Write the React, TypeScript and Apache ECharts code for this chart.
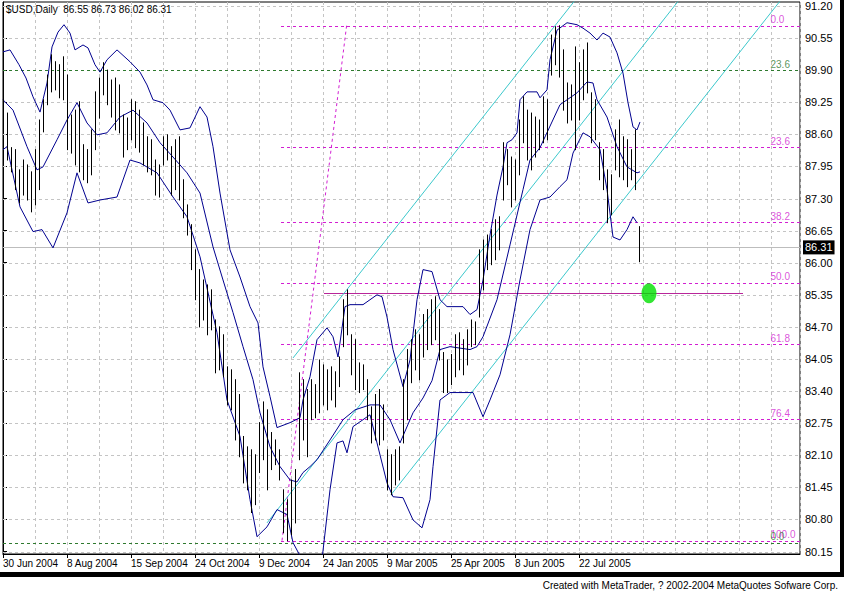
import React, { useEffect, useRef } from 'react';
import * as echarts from 'echarts';

// ---------- data ----------
const symbolName = '$USD,Daily';
const lastOHLC = [86.55, 86.73, 86.02, 86.31];

const barHigh = [
  89.56, 89.03, 88.33, 88.29, 87.88, 88.08, 87.98, 87.84, 88.29, 88.89,
  89.30, 89.80, 90.21, 90.07, 90.01, 90.17, 89.80, 88.99, 89.09, 89.26,
  88.39, 88.29, 88.69, 89.46, 89.74, 90.05, 89.90, 89.70, 89.74, 89.60,
  88.99, 88.93, 89.30, 89.26, 89.09, 88.83, 88.55, 88.49, 88.08, 87.98,
  88.55, 88.59, 88.35, 88.49, 88.55, 87.68, 87.17, 86.77, 86.26, 85.86,
  85.65, 85.55, 85.45, 84.84, 84.70, 84.54, 83.89, 83.83, 83.63, 83.33,
  82.48, 82.27, 82.21, 82.11, 82.76, 83.18, 83.02, 82.56, 82.41, 82.21,
  81.40, 81.20, 81.60, 81.81, 83.77, 83.63, 83.43, 83.63, 83.53, 84.03,
  83.93, 83.83, 83.89, 83.79, 84.09, 85.25, 85.45, 84.54, 84.44, 83.97,
  83.93, 83.63, 83.08, 83.33, 83.43, 83.12, 82.21, 82.11, 82.21, 82.27,
  83.63, 84.24, 84.44, 84.64, 84.54, 84.95, 85.05, 85.25, 85.31, 85.05,
  84.18, 84.03, 84.14, 84.54, 84.58, 84.44, 84.64, 84.84, 84.80, 86.26,
  86.46, 86.56, 86.67, 86.87, 86.93, 88.43, 88.29, 88.14, 88.08, 88.89,
  89.36, 89.09, 89.03, 88.95, 88.89, 89.36, 89.30, 90.61, 90.78, 90.80,
  90.31, 89.64, 89.60, 90.37, 90.05, 90.31, 90.45, 89.44, 89.30, 88.43,
  88.29, 87.88, 87.78, 88.69, 88.89, 88.55, 88.49, 88.29, 88.69, 86.73,
];
const barLow = [
  88.63, 88.08, 87.84, 87.48, 87.21, 87.37, 87.27, 87.03, 87.17, 87.48,
  88.65, 89.20, 89.46, 89.50, 89.34, 89.30, 88.29, 88.22, 87.98, 87.84,
  87.68, 87.62, 87.78, 88.29, 88.93, 89.40, 89.20, 88.95, 88.69, 88.63,
  88.14, 88.29, 88.49, 88.33, 88.24, 87.98, 87.84, 87.78, 87.37, 87.33,
  87.98, 88.08, 87.37, 87.48, 87.27, 86.91, 86.56, 85.86, 85.25, 84.70,
  84.84, 84.54, 84.64, 83.77, 83.83, 83.69, 83.12, 83.02, 82.41, 82.07,
  81.54, 81.40, 80.94, 81.10, 81.75, 82.01, 81.40, 81.81, 81.91, 81.60,
  80.53, 80.37, 80.49, 80.73, 82.01, 82.41, 82.07, 82.82, 82.86, 82.96,
  83.12, 83.02, 83.22, 83.08, 83.49, 84.30, 84.54, 83.73, 83.43, 83.37,
  83.43, 82.82, 82.35, 82.41, 82.31, 82.41, 81.40, 81.30, 81.50, 81.60,
  82.35, 82.82, 83.57, 83.83, 83.63, 84.09, 84.24, 84.34, 84.44, 84.03,
  83.37, 83.37, 83.53, 83.69, 83.83, 83.73, 83.93, 84.30, 84.34, 84.90,
  85.45, 85.86, 85.96, 86.06, 86.26, 87.27, 87.58, 87.13, 87.27, 87.78,
  88.43, 88.08, 87.88, 88.14, 88.29, 88.43, 88.49, 89.80, 90.01, 89.76,
  89.09, 88.83, 88.89, 88.29, 88.89, 89.30, 89.44, 88.43, 88.49, 87.68,
  87.48, 86.81, 86.97, 87.88, 87.74, 87.68, 87.54, 87.68, 87.48, 86.02,
];

const dateLabels = [
  '30 Jun 2004', '8 Aug 2004', '15 Sep 2004', '24 Oct 2004', '9 Dec 2004',
  '24 Jan 2005', '9 Mar 2005', '25 Apr 2005', '8 Jun 2005', '22 Jul 2005',
];
const dateLabelIdx = [0, 16, 32, 48, 64, 80, 96, 112, 128, 144];

const yTicks = [
  80.15, 80.8, 81.45, 82.1, 82.75, 83.4, 84.05, 84.7, 85.35, 86.0,
  86.65, 87.3, 87.95, 88.6, 89.25, 89.9, 90.55, 91.2,
];

const upperBand = [
  [0, 90.27], [1.75, 90.31], [4, 90.01], [5.75, 89.74], [7.5, 89.36], [9.25, 89.05],
  [11, 89.64], [12.25, 90.37], [13.75, 90.67], [15.25, 90.82], [16.75, 90.65], [18, 90.31],
  [20, 90.41], [21.25, 90.35], [23, 90.01], [24.25, 89.86], [26, 90.11], [28.5, 90.31],
  [31.75, 90.07], [34.25, 89.86], [36, 89.6], [37.5, 89.3], [40, 89.24], [41.75, 89.09],
  [44.25, 88.69], [46.75, 88.73], [49.25, 89.16], [51, 88.95], [52.5, 88.35], [54.25, 87.41],
  [56.75, 86.26], [59.25, 85.71], [61.75, 85.11], [63.75, 84.78], [65, 83.89], [66.75, 83.29],
  [68.5, 82.66], [71.75, 82.76], [74.25, 82.86], [75, 83.22], [76.75, 83.69], [78.5, 84.44],
  [81, 84.68], [82.5, 84.5], [83.75, 84.09], [85.5, 85.11], [86.75, 85.15], [90, 85.15],
  [93.5, 85.35], [94.75, 85.31], [96, 84.9], [97.5, 84.24], [100, 83.49], [101.75, 84.03],
  [103.5, 85.25], [105, 85.86], [107.25, 85.82], [109.25, 85.25], [111, 85.11], [115, 85.11],
  [116.75, 84.95], [118.5, 85.05], [120, 85.65], [121.75, 86.56], [123.5, 87.37], [125, 87.94],
  [126, 88.43], [127.25, 88.49], [128.5, 88.63], [129.25, 89.3], [131, 89.46], [133.5, 89.46],
  [134.25, 89.34], [136, 89.5], [136.75, 90.11], [138.5, 90.71], [141, 90.86], [143.5, 90.82],
  [145, 90.75], [146.75, 90.65], [148.5, 90.51], [150, 90.65], [151.75, 90.57], [153.5, 90.25],
  [155, 89.84], [156.25, 89.24], [157.5, 88.75], [158.5, 88.69], [159.25, 88.85],
];
const middleBand = [
  [0, 89.3], [2.5, 89.09], [6, 88.35], [8.5, 87.88], [10, 87.94], [13.5, 88.49],
  [16, 88.89], [18.5, 89.24], [21, 88.83], [23.5, 88.59], [26, 88.63], [29.25, 88.95],
  [32.5, 89.09], [36, 88.83], [39.25, 88.43], [42.5, 88.14], [46, 87.82], [49.25, 87.41],
  [52.5, 86.32], [55, 85.65], [57.5, 84.99], [60, 84.3], [62.5, 83.63], [64.25, 82.96],
  [66.75, 82.27], [69.25, 81.87], [71.75, 81.6], [73.5, 81.56], [75, 81.75], [76.75, 81.87],
  [78.5, 82.01], [81.75, 82.41], [85, 82.82], [88, 83.02], [91.75, 83.12], [94.25, 83.12],
  [96.75, 82.82], [99.25, 82.35], [102.5, 82.96], [105, 83.26], [107.25, 83.61], [109.25, 84.24],
  [111.75, 84.3], [116.75, 84.24], [118.5, 84.3], [120, 84.5], [123.5, 85.25], [126.75, 86.36],
  [130, 87.48], [131.75, 88.08], [134.25, 88.33], [139.25, 89.2], [143.5, 89.44], [146, 89.66],
  [147.5, 89.64], [148.5, 89.3], [151, 88.95], [153.5, 88.35], [156, 87.94], [158.5, 87.82],
  [159.25, 87.84],
];
const lowerBand = [
  [0, 88.29], [1, 88.35], [4.25, 87.13], [7.5, 86.63], [9.75, 86.67], [12.5, 86.3],
  [16, 87.01], [18.5, 87.82], [21.25, 87.21], [24.25, 87.27], [28.5, 87.33], [31.75, 88.08],
  [34.25, 88.02], [38.5, 87.82], [42.5, 87.33], [46, 86.93], [49.25, 86.12], [53.5, 84.58],
  [56, 83.22], [59.25, 82.48], [61.75, 81.2], [63.5, 80.45], [66, 80.65], [68.5, 81.0],
  [71, 80.9], [72.5, 80.33], [74.75, 79.99], [77.25, 79.18], [79.75, 79.99], [81.75, 81.4],
  [83.5, 82.35], [85, 82.39], [86, 82.15], [87.5, 82.68], [90, 82.82], [91.75, 82.92],
  [93.5, 82.35], [96, 81.54], [97.5, 81.26], [100, 81.24], [102.5, 80.79], [104.75, 80.63],
  [106.75, 81.2], [107.5, 81.87], [109.25, 83.22], [111.75, 83.37], [117.5, 83.37], [120, 82.88],
  [121.75, 83.22], [124.25, 83.73], [126.75, 84.54], [129.25, 85.65], [131.75, 86.67], [134.25, 87.27],
  [136.75, 87.33], [139.25, 87.54], [141, 87.68], [142.5, 88.22], [145, 88.63], [146.75, 88.55],
  [149.25, 88.29], [151, 87.48], [152.5, 86.52], [154.25, 86.46], [156, 86.67], [157.5, 86.93],
  [158.5, 86.81],
];

const fibLevels = ['0.0', '23.6', '38.2', '50.0', '61.8', '76.4', '100.0'];
const fibPrices = [90.8, 88.34, 86.82, 85.59, 84.35, 82.83, 80.37];
const fibStartIdx = 69.5;
const fibLabelIdx = 191.75;

const greenLevels = [89.9, 80.33];
const greenLabels = ['23.6', '0.0'];

const channelLines = [
  [[72.5, 84.07], [145, 91.52]],
  [[66, 80.73], [170, 91.42]],
  [[97, 81.3], [200, 91.89]],
];
const fibTrend = [[69.75, 80.37], [85.9, 90.8]];
const supportLine = { price: 85.38, from: 80.25, to: 185 };
const targetPoint = [161.5, 85.38];

// ---------- layout ----------
const X_MAX = 199.25;
const Y_MIN = 80.1;
const Y_MAX = 91.28;
const FONT = 'Liberation Sans, Arial, sans-serif';
const MAGENTA = '#d21fd2';
const DKGREEN = '#2f7a2f';
const GRIDGRAY = '#c4c4c4';

// crisp horizontal line series built from [price, fromIdx, toIdx] rows
function hLineSeries(name: string, rows: number[][], color: string, dashed: boolean, z: number) {
  return {
    name, type: 'custom', data: rows, silent: true, z, clip: true,
    encode: { x: [1, 2], y: 0 },
    renderItem: (params: any, api: any) => {
      const a = api.coord([api.value(1), api.value(0)]);
      const b = api.coord([api.value(2), api.value(0)]);
      const y = Math.round(a[1]) + 0.5;
      return {
        type: 'line',
        shape: { x1: a[0], y1: y, x2: b[0], y2: y },
        style: { stroke: color, lineWidth: 1, lineDash: dashed ? [3, 3] : null },
      };
    },
  };
}

export default function App() {
  const ref = useRef<HTMLDivElement | null>(null);

  useEffect(() => {
    if (!ref.current) return;
    const chart = echarts.init(ref.current, undefined, { renderer: 'svg' });

    const bars = barHigh.map((h, i) => [i, h, barLow[i]]);
    const lastClose = lastOHLC[3];

    const option: any = {
      animation: false,
      backgroundColor: '#ffffff',
      textStyle: { fontFamily: FONT },
      grid: {
        left: 3, top: 2, width: 797, height: 552,
        show: true, borderColor: '#000', borderWidth: 1, backgroundColor: '#fff',
      },
      xAxis: [
        {
          type: 'value', min: 0, max: X_MAX, interval: 8,
          axisLine: { show: false }, axisTick: { show: false }, axisLabel: { show: false },
          splitLine: { show: true, lineStyle: { color: GRIDGRAY, type: [3, 3], width: 1 } },
        },
        {
          type: 'value', min: 0, max: X_MAX, interval: 16, position: 'bottom',
          axisLine: { show: true, lineStyle: { color: '#000' } },
          axisTick: { show: true, length: 4, customValues: dateLabelIdx, lineStyle: { color: '#000' } },
          axisLabel: {
            show: true, customValues: dateLabelIdx, align: 'left', margin: 4,
            color: '#000', fontSize: 10, fontFamily: FONT,
            formatter: (v: number) => {
              const k = dateLabelIdx.indexOf(Math.round(v));
              return k >= 0 && Math.abs(v - dateLabelIdx[k]) < 0.01 ? dateLabels[k] : '';
            },
          },
          splitLine: { show: false },
        },
      ],
      yAxis: {
        type: 'value', min: Y_MIN, max: Y_MAX, position: 'right',
        axisLine: { show: true, lineStyle: { color: '#000' } },
        axisTick: { show: true, length: 4, customValues: yTicks, lineStyle: { color: '#000' } },
        axisLabel: {
          show: true, customValues: yTicks, margin: 5, color: '#000', fontSize: 11,
          fontFamily: FONT, formatter: (v: number) => v.toFixed(2),
        },
        splitLine: { show: false },
      },
      graphic: [
        { type: 'rect', shape: { x: 840, y: 0, width: 4, height: 577 }, style: { fill: '#000' }, silent: true },
        { type: 'rect', shape: { x: 0, y: 572, width: 844, height: 5 }, style: { fill: '#000' }, silent: true },
        {
          type: 'text', x: 6, y: 4, silent: true, z: 100,
          style: {
            text: `${symbolName}  ${lastOHLC.map((v) => v.toFixed(2)).join(' ')}`,
            fill: '#000', font: `10px ${FONT}`,
          },
        },
        {
          type: 'text', x: 838, y: 585, silent: true,
          style: {
            text: 'Created with MetaTrader, ? 2002-2004 MetaQuotes Sofware Corp.',
            fill: '#000', font: `10px ${FONT}`, align: 'right', verticalAlign: 'middle',
          },
        },
      ],
      series: [
        hLineSeries('gridH', yTicks.map((v) => [v, 0, X_MAX]), GRIDGRAY, true, 1),
        hLineSeries('greenLevels', greenLevels.map((v) => [v, 0, X_MAX]), DKGREEN, true, 2),
        hLineSeries('fibLevels', fibPrices.map((v) => [v, fibStartIdx, X_MAX]), MAGENTA, true, 2),
        hLineSeries('priceLine', [[lastClose, 0, X_MAX]], '#bdbdbd', false, 2),
        hLineSeries('support', [[supportLine.price, supportLine.from, supportLine.to]], '#b8259a', false, 2),
        {
          name: 'priceLabel', type: 'line', data: [], silent: true,
          markLine: {
            silent: true, symbol: 'none', z: 2, animation: false,
            lineStyle: { color: 'rgba(0,0,0,0)', width: 0 },
            label: {
              show: true, position: 'end', distance: 3, formatter: lastClose.toFixed(2),
              backgroundColor: '#000', color: '#fff', padding: [2, 2, 1, 2],
              fontSize: 11, fontFamily: FONT,
            },
            data: [{ yAxis: lastClose }],
          },
        },
        {
          name: 'fibTrend', type: 'line', data: fibTrend, showSymbol: false, silent: true, z: 2,
          lineStyle: { color: MAGENTA, type: [3, 3], width: 1 },
        },
        ...channelLines.map((seg, k) => ({
          name: 'channel' + k, type: 'line', data: seg, showSymbol: false, silent: true, z: 2,
          lineStyle: { color: '#3cc8cc', width: 1 },
        })),
        ...[upperBand, middleBand, lowerBand].map((d, k) => ({
          name: 'bb' + k, type: 'line', data: d, showSymbol: false, silent: true, z: 3,
          lineStyle: { color: '#00008f', width: 1 },
        })),
        {
          name: 'bars', type: 'custom', data: bars, silent: true, z: 4,
          encode: { x: 0, y: [1, 2] },
          renderItem: (params: any, api: any) => {
            const hi = api.coord([api.value(0), api.value(1)]);
            const lo = api.coord([api.value(0), api.value(2)]);
            const x = Math.round(hi[0]) + 0.5;
            return {
              type: 'line',
              shape: { x1: x, y1: hi[1] - 0.5, x2: x, y2: lo[1] + 0.5 },
              style: { stroke: '#000', lineWidth: 1 },
            };
          },
        },
        {
          name: 'fibLabels', type: 'scatter', silent: true, z: 5, symbolSize: 1,
          itemStyle: { color: 'rgba(0,0,0,0)' },
          data: [
            ...fibLevels.map((t, k) => ({
              value: [fibLabelIdx, fibPrices[k]],
              label: { formatter: t, color: MAGENTA },
            })),
            ...greenLabels.map((t, k) => ({
              value: [fibLabelIdx, greenLevels[k]],
              label: { formatter: t, color: DKGREEN },
            })),
          ],
          label: {
            show: true, position: 'right', distance: 0, offset: [0, -6],
            fontSize: 10, fontFamily: FONT,
          },
        },
        {
          name: 'target', type: 'scatter', silent: true, z: 6,
          data: [targetPoint], symbol: 'circle', symbolSize: [15, 20],
          itemStyle: { color: '#00e000' },
        },
      ],
    };

    chart.setOption(option);
    return () => chart.dispose();
  }, []);

  return (
    <div
      ref={ref}
      style={{ position: 'fixed', left: 0, top: 0, width: 844, height: 593, background: '#fff' }}
    />
  );
}
